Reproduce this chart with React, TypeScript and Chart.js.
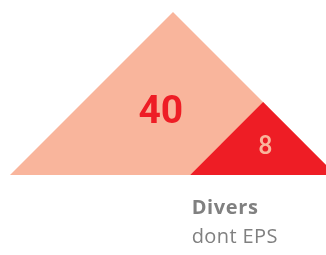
import React, { useEffect, useRef } from "react";
import { Chart, registerables } from "chart.js";

Chart.register(...registerables);

const values = [40, 8];
const valueLabels = ["40", "8"];
const fillColors = ["#F9B59C", "#EE1D25"];
const labelColors = ["#EE1D25", "#F9B59C"];
const captionLines = ["Divers", "dont EPS"];

export default function App() {
  const ref = useRef<HTMLCanvasElement>(null);

  useEffect(() => {
    if (!ref.current) return;
    const hBig = Math.sqrt(values[0]);
    const hSmall = Math.sqrt(values[1]);
    const right = 2 * hBig;
    const big = [
      { x: 0, y: 0 },
      { x: hBig, y: hBig },
      { x: right, y: 0 },
    ];
    const small = [
      { x: right - 2 * hSmall, y: 0 },
      { x: right - hSmall, y: hSmall },
      { x: right, y: 0 },
    ];
    const unit = 163 / hBig;

    const labelPlugin = {
      id: "labels",
      afterDatasetsDraw(chart: any) {
        const ctx = chart.ctx;
        const xs = chart.scales.x;
        const ys = chart.scales.y;
        ctx.save();
        ctx.textAlign = "center";
        ctx.textBaseline = "middle";
        ctx.fillStyle = labelColors[0];
        ctx.font = "bold 39px Roboto";
        ctx.fillText(valueLabels[0], xs.getPixelForValue(hBig * 0.925), ys.getPixelForValue(hBig * 0.38));
        ctx.fillStyle = labelColors[1];
        ctx.font = "500 25px Roboto";
        ctx.fillText(valueLabels[1], xs.getPixelForValue(right - hSmall * 0.97), ys.getPixelForValue(hSmall * 0.37));
        ctx.textAlign = "left";
        ctx.textBaseline = "alphabetic";
        ctx.fillStyle = "#808080";
        const cx = xs.getPixelForValue(right - 2 * hSmall) + 1.5;
        const base = ys.getPixelForValue(0);
        (ctx as any).letterSpacing = "0.6px";
        ctx.font = "bold 20px 'Open Sans'";
        ctx.fillText(captionLines[0], cx, base + 39);
        (ctx as any).letterSpacing = "0.4px";
        ctx.font = "20px 'Open Sans'";
        ctx.fillText(captionLines[1], cx, base + 68);
        ctx.restore();
      },
    };

    const chart = new Chart(ref.current, {
      type: "scatter",
      data: {
        datasets: [
          {
            data: big,
            showLine: true,
            fill: "origin",
            backgroundColor: fillColors[0],
            borderColor: fillColors[0],
            borderWidth: 0,
            pointRadius: 0,
            tension: 0,
            order: 2,
          },
          {
            data: small,
            showLine: true,
            fill: "origin",
            backgroundColor: fillColors[1],
            borderColor: fillColors[1],
            borderWidth: 0,
            pointRadius: 0,
            tension: 0,
            order: 1,
          },
        ],
      },
      options: {
        animation: false,
        responsive: false,
        layout: { padding: 0 },
        plugins: { legend: { display: false }, tooltip: { enabled: false } },
        scales: {
          x: { type: "linear", display: false, min: -10 / unit, max: 316 / unit },
          y: { type: "linear", display: false, min: -80 / unit, max: 175 / unit },
        },
      },
      plugins: [labelPlugin],
    } as any);
    return () => chart.destroy();
  }, []);

  return (
    <div style={{ position: "fixed", left: 0, top: 0, width: 326, height: 255, background: "#fff" }}>
      <canvas ref={ref} width={326} height={255} style={{ display: "block" }} />
    </div>
  );
}
